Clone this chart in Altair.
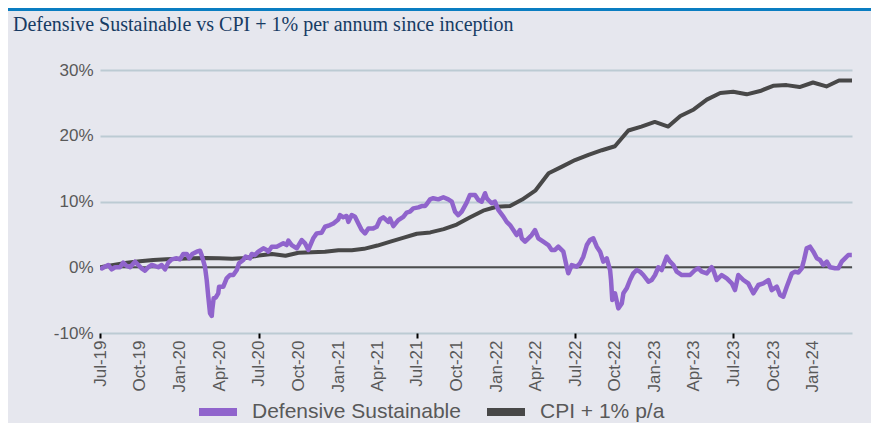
import altair as alt
import pandas as pd

TITLE = "Defensive Sustainable vs CPI + 1% per annum since inception"
SERIES = ["Defensive Sustainable", "CPI + 1% p/a"]
COLORS = ["#9064cc", "#484848"]

# Defensive Sustainable: time (decimal years) and cumulative return (%)
ds_year = [
    2019.500, 2019.511, 2019.552, 2019.574, 2019.595, 2019.626, 2019.647, 2019.669, 2019.690, 2019.721,
    2019.742, 2019.763, 2019.784, 2019.805, 2019.827, 2019.847, 2019.868, 2019.890, 2019.911, 2019.931,
    2019.953, 2019.984, 2020.005, 2020.026, 2020.048, 2020.064, 2020.083, 2020.111, 2020.132, 2020.142,
    2020.163, 2020.174, 2020.184, 2020.195, 2020.206, 2020.209, 2020.218, 2020.231, 2020.247, 2020.252,
    2020.279, 2020.300, 2020.321, 2020.342, 2020.364, 2020.378, 2020.405, 2020.420, 2020.448, 2020.458,
    2020.479, 2020.500, 2020.532, 2020.553, 2020.563, 2020.585, 2020.616, 2020.637, 2020.658, 2020.679,
    2020.690, 2020.711, 2020.743, 2020.774, 2020.795, 2020.816, 2020.847, 2020.869, 2020.900, 2020.921,
    2020.953, 2020.974, 2021.005, 2021.016, 2021.037, 2021.058, 2021.069, 2021.090, 2021.111, 2021.132,
    2021.153, 2021.174, 2021.195, 2021.226, 2021.248, 2021.269, 2021.290, 2021.321, 2021.332, 2021.353,
    2021.384, 2021.416, 2021.437, 2021.458, 2021.479, 2021.511, 2021.532, 2021.553, 2021.564, 2021.585,
    2021.605, 2021.637, 2021.669, 2021.700, 2021.722, 2021.743, 2021.763, 2021.785, 2021.816, 2021.837,
    2021.869, 2021.890, 2021.911, 2021.932, 2021.943, 2021.953, 2021.974, 2021.995, 2022.016, 2022.048,
    2022.069, 2022.090, 2022.111, 2022.132, 2022.153, 2022.164, 2022.185, 2022.206, 2022.227, 2022.248,
    2022.269, 2022.300, 2022.332, 2022.353, 2022.374, 2022.395, 2022.427, 2022.448, 2022.458, 2022.480,
    2022.511, 2022.532, 2022.553, 2022.575, 2022.595, 2022.616, 2022.638, 2022.659, 2022.679, 2022.701,
    2022.722, 2022.728, 2022.736, 2022.753, 2022.774, 2022.796, 2022.806, 2022.827, 2022.848, 2022.869,
    2022.890, 2022.911, 2022.932, 2022.964, 2022.985, 2023.006, 2023.027, 2023.048, 2023.080, 2023.101,
    2023.122, 2023.143, 2023.175, 2023.196, 2023.227, 2023.259, 2023.280, 2023.301, 2023.333, 2023.364,
    2023.374, 2023.396, 2023.427, 2023.459, 2023.491, 2023.511, 2023.532, 2023.564, 2023.595, 2023.627,
    2023.659, 2023.690, 2023.722, 2023.743, 2023.775, 2023.796, 2023.816, 2023.838, 2023.870, 2023.890,
    2023.911, 2023.933, 2023.947, 2023.964, 2023.985, 2024.006, 2024.028, 2024.048, 2024.069, 2024.091,
    2024.112, 2024.143, 2024.164, 2024.185, 2024.206, 2024.227, 2024.249,
]
ds_value = [
    0.0, -0.2, 0.34, -0.32, 0.0, 0.0, 0.70, 0.19, 0.0, 0.85,
    0.34, -0.16, -0.52, 0.0, 0.34, 0.19, 0.0, 0.34, -0.32, 0.70,
    1.20, 1.36, 1.20, 2.02, 2.02, 1.36, 2.02, 2.37, 2.52, 1.86,
    0.09, -1.94, -4.47, -7.0, -7.41, -6.5, -4.7, -4.6, -3.97, -2.95,
    -2.95, -1.69, -1.18, -1.18, -0.42, 0.6, 1.1, 1.61, 1.36, 2.02,
    1.86, 2.37, 2.88, 2.63, 2.37, 3.13, 3.13, 3.38, 3.64, 3.38,
    4.04, 3.38, 2.88, 4.14, 3.64, 2.63, 4.4, 5.15, 5.25, 6.16,
    6.41, 6.67, 7.27, 7.93, 7.6, 7.8, 6.9, 7.93, 7.67, 6.67,
    5.66, 5.15, 5.91, 5.91, 6.16, 7.27, 7.6, 6.9, 7.4, 6.26,
    7.17, 7.67, 8.3, 8.45, 8.96, 9.11, 9.3, 9.3, 9.62, 10.33,
    10.5, 10.33, 10.65, 10.33, 9.98, 8.45, 7.93, 8.45, 9.83, 11.0,
    11.0, 10.23, 9.98, 11.26, 10.5, 10.23, 9.73, 9.98, 8.71, 7.7,
    6.9, 6.41, 5.66, 4.9, 5.66, 4.4, 3.89, 4.4, 4.9, 5.66,
    4.4, 3.89, 3.38, 2.63, 2.63, 3.13, 2.37, 0.09, -0.92, 0.34,
    0.09, 0.6, 1.61, 3.38, 4.14, 4.4, 3.13, 2.37, 0.85, 1.36,
    -0.42, -1.94, -4.98, -3.97, -6.25, -5.5, -3.97, -3.21, -1.94, -0.92,
    -0.42, -0.67, -1.18, -2.2, -1.94, -1.18, 0.0, -0.42, 1.61, 0.85,
    0.34, -0.67, -1.18, -1.18, -1.18, -0.42, -0.16, -0.67, -0.93, 0.0,
    -0.42, -1.94, -1.18, -1.69, -2.45, -3.47, -1.18, -1.94, -2.45, -3.97,
    -2.7, -2.45, -1.94, -3.47, -2.96, -4.22, -4.47, -2.96, -0.93, -0.67,
    -0.8, -0.16, 1.1, 2.88, 3.13, 2.37, 1.36, 1.1, 0.34, 0.85,
    0.0, -0.16, -0.16, 0.85, 1.36, 1.86, 1.86,
]

# CPI + 1% p/a: monthly cumulative (%)
cpi_value = [
    0.0, 0.35, 0.7, 0.9, 1.1, 1.2, 1.3, 1.35, 1.4, 1.35, 1.3, 1.4,
    1.8, 2.0, 1.75, 2.2, 2.3, 2.35, 2.6, 2.6, 2.8, 3.3, 3.9, 4.5,
    5.1, 5.3, 5.8, 6.5, 7.6, 8.6, 9.2, 9.3, 10.3, 11.7, 14.3, 15.3,
    16.3, 17.1, 17.8, 18.4, 20.8, 21.4, 22.1, 21.4, 23.0, 24.0, 25.5, 26.5,
    26.7, 26.3, 26.8, 27.6, 27.7, 27.4, 28.1, 27.5, 28.4, 28.4,
]
cpi_dates = [f"{2019 + (6 + i) // 12}-{(6 + i) % 12 + 1:02d}-01" for i in range(57)] + ["2024-03-31"]

y_ticks = [-10, 0, 10, 20, 30]
x_tick_months = [(2019 + (6 + i) // 12, (6 + i) % 12 + 1) for i in range(0, 55, 3)]

base = pd.Timestamp("2019-07-01")
ds_df = pd.DataFrame({
    "date": [base + pd.to_timedelta((y - 2019.5) * 365.25, unit="D") for y in ds_year],
    "value": ds_value,
    "series": SERIES[0],
})
cpi_df = pd.DataFrame({"date": pd.to_datetime(cpi_dates), "value": cpi_value, "series": SERIES[1]})

X_AX = alt.Axis(
    values=[alt.DateTime(year=y, month=m, date=1) for y, m in x_tick_months],
    format="%b-%y", labelAngle=270, labelFontSize=17, labelColor="#595959",
    labelFont="Liberation Sans", labelPadding=2, labelFlush=False, labelOverlap=False,
    tickSize=5, tickWidth=2,
    tickColor={"condition": {"test": "month(datum.value) == 6", "value": "#000000"}, "value": "transparent"},
    grid=False, domain=False, title=None,
)
Y_AX = alt.Axis(
    values=y_ticks, labelExpr="datum.value + '%'", labelFontSize=17, labelColor="#595959",
    labelFont="Liberation Sans", labelPadding=7, ticks=False, domain=False,
    grid=True, gridColor="#bccbd3", gridWidth=2, title=None,
)
XS = alt.Scale(domain=[alt.DateTime(year=2019, month=7, date=1), alt.DateTime(year=2024, month=3, date=31)])
YS = alt.Scale(domain=[-10, 30], nice=False)
COL = alt.Color(
    "series:N",
    scale=alt.Scale(domain=SERIES, range=COLORS),
    legend=alt.Legend(
        orient="none", legendX=95, legendY=319, direction="horizontal", title=None,
        symbolType="stroke", symbolStrokeWidth=8, symbolSize=1444,
        labelFontSize=21, labelColor="#595959", labelFont="Liberation Sans",
        labelOffset=11, columnPadding=10, padding=0, labelLimit=400,
    ),
)

zero = alt.Chart(pd.DataFrame({"v": [0]})).mark_rule(color="#4d4d4d", strokeWidth=2).encode(
    y=alt.Y("v:Q", scale=YS, axis=Y_AX)
)
cpi_line = alt.Chart(cpi_df).mark_line(strokeWidth=4, strokeJoin="round", clip=True).encode(
    x=alt.X("date:T", scale=XS, axis=X_AX),
    y=alt.Y("value:Q", scale=YS, axis=Y_AX),
    color=COL,
)
ds_line = alt.Chart(ds_df).mark_line(strokeWidth=4.5, strokeJoin="round", clip=True).encode(
    x=alt.X("date:T", scale=XS, axis=X_AX),
    y=alt.Y("value:Q", scale=YS, axis=Y_AX),
    color=COL,
)
title = alt.Chart(pd.DataFrame({"t": [TITLE]})).mark_text(
    font="Liberation Serif", fontSize=20, color="#173b63", align="left", baseline="alphabetic"
).encode(text="t:N", x=alt.value(-87), y=alt.value(-39.5))
bar = alt.Chart(pd.DataFrame({"a": [0]})).mark_rule(color="#0a7dc1", strokeWidth=3).encode(
    x=alt.value(-92), x2=alt.value(771), y=alt.value(-60.5)
)

chart = alt.layer(zero, cpi_line, ds_line, title, bar).properties(
    width=752, height=263,
    padding={"left": 92, "top": 62, "right": 19, "bottom": 90},
    autosize=alt.AutoSizeParams(type="none"),
).configure(background="#e6e7ee", font="Liberation Sans").configure_view(strokeWidth=0)

chart.save("out.html", embed_options={"renderer": "svg", "actions": False})
